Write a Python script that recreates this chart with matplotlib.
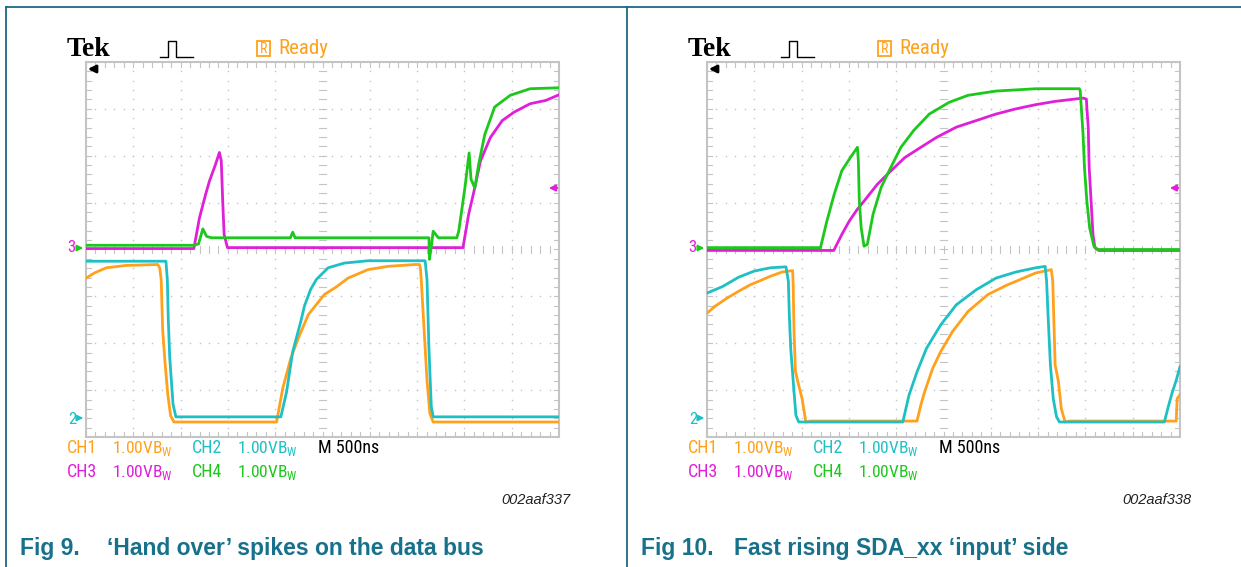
import matplotlib
matplotlib.use('Agg')
import matplotlib.pyplot as plt
import numpy as np
from matplotlib import font_manager
from matplotlib.patches import Rectangle

# ---- data: time in ns (500 ns/div), level in V (1 V/div) ----
# Fig 9
T9_CH1 = [0, 90, 215, 425, 760, 780, 795, 810, 835, 865, 895, 930, 2015, 2080, 2165, 2245, 2350, 2520,
          2645, 2770, 2980, 3190, 3480, 3525, 3535, 3545, 3565, 3585, 3605, 3635, 3670, 5000]
V9_CH1 = [3.01, 3.12, 3.23, 3.28, 3.30, 3.22, 2.97, 1.92, 1.22, 0.52, 0.07, -0.06, -0.06, 0.66, 1.30, 1.73,
          2.23, 2.66, 2.82, 3.01, 3.19, 3.26, 3.30, 3.30, 3.22, 2.94, 2.22, 1.52, 0.82, 0.12, -0.06, -0.06]
T9_CH2 = [0, 845, 860, 870, 885, 920, 950, 2060, 2120, 2185, 2270, 2310, 2375, 2435, 2560, 2730, 2980,
          3585, 3605, 3625, 3650, 3670, 5000]
V9_CH2 = [3.37, 3.37, 2.97, 2.12, 1.32, 0.32, 0.05, 0.05, 0.58, 1.44, 2.08, 2.42, 2.77, 2.98, 3.23, 3.33,
          3.38, 3.38, 2.97, 1.52, 0.27, 0.05, 0.05]
T9_CH3 = [0, 1140, 1200, 1265, 1305, 1370, 1410, 1430, 1445, 1460, 1495, 3985, 4045, 4110, 4170, 4275,
          4400, 4525, 4695, 4860, 5000]
V9_CH3 = [0.02, 0.02, 0.68, 1.18, 1.46, 1.82, 2.07, 1.89, 1.04, 0.32, 0.04, 0.04, 0.75, 1.32, 1.89, 2.39,
          2.75, 2.93, 3.11, 3.18, 3.30]
T9_CH4 = [0, 1140, 1190, 1235, 1275, 1325, 2160, 2185, 2210, 3625, 3630, 3650, 3670, 3725, 3920, 3940,
          4005, 4050, 4070, 4110, 4150, 4215, 4320, 4485, 4695, 5000]
V9_CH4 = [0.09, 0.09, 0.12, 0.44, 0.28, 0.25, 0.25, 0.37, 0.25, 0.25, -0.21, 0.05, 0.39, 0.25, 0.25, 0.39,
          1.31, 2.06, 1.50, 1.31, 1.81, 2.45, 3.04, 3.29, 3.43, 3.45]

# Fig 10
T10_CH1 = [0, 85, 210, 335, 460, 545, 670, 795, 905, 910, 920, 935, 960, 1005, 1045, 1090, 2220, 2260, 2300,
           2385, 2470, 2595, 2760, 2970, 3180, 3265, 3475, 3640, 3655, 3670, 3680, 3715, 3745, 3785, 3830,
           4960, 4970, 5000]
V10_CH1 = [2.26, 2.41, 2.58, 2.73, 2.87, 2.94, 3.05, 3.14, 3.17, 2.94, 1.87, 1.02, 0.80, 0.44, -0.06, -0.04,
           -0.04, 0.30, 0.58, 1.08, 1.44, 1.87, 2.30, 2.66, 2.87, 2.94, 3.12, 3.19, 2.94, 1.87, 1.16, 0.80,
           0.23, -0.06, -0.04, -0.04, 0.44, 0.52]
T10_CH2 = [0, 165, 335, 500, 670, 835, 860, 870, 885, 920, 940, 970, 2070, 2135, 2220, 2320, 2470, 2635,
           2845, 3055, 3265, 3475, 3575, 3590, 3605, 3630, 3660, 3695, 3725, 4835, 4875, 4915, 4960, 5000]
V10_CH2 = [2.69, 2.83, 3.03, 3.16, 3.23, 3.25, 2.94, 2.23, 1.51, 0.58, 0.08, -0.06, -0.06, 0.51, 1.01, 1.51,
           2.01, 2.44, 2.76, 3.01, 3.14, 3.23, 3.26, 2.94, 2.23, 1.16, 0.44, 0.05, -0.06, -0.06, 0.26, 0.55,
           0.83, 1.12]
T10_CH3 = [0, 1340, 1425, 1505, 1590, 1675, 1800, 1925, 2090, 2260, 2425, 2635, 2845, 3055, 3265, 3475,
           3680, 3975, 4010, 4015, 4030, 4040, 4060, 4080, 4100, 4140, 5000]
V10_CH3 = [-0.02, -0.02, 0.32, 0.61, 0.86, 1.07, 1.39, 1.64, 1.96, 2.18, 2.39, 2.61, 2.75, 2.89, 3.0, 3.09,
           3.16, 3.23, 3.21, 3.04, 2.61, 1.75, 1.04, 0.32, 0.04, -0.02, -0.02]
T10_CH4 = [0, 1200, 1265, 1345, 1425, 1515, 1590, 1600, 1610, 1630, 1660, 1695, 1755, 1840, 1925, 2050,
           2185, 2350, 2560, 2760, 3055, 3480, 3935, 3945, 3975, 3990, 4015, 4045, 4090, 4130, 5000]
V10_CH4 = [0.04, 0.04, 0.59, 1.18, 1.68, 1.96, 2.18, 1.89, 1.04, 0.46, 0.07, 0.11, 0.75, 1.32, 1.68, 2.18,
           2.54, 2.89, 3.14, 3.29, 3.38, 3.43, 3.43, 3.39, 2.46, 1.75, 1.04, 0.46, 0.07, 0.0, 0.0]

CAPTIONS = [('Fig 9.', '\u2018Hand over\u2019 spikes on the data bus', '002aaf337'),
            ('Fig 10.', 'Fast rising SDA_xx \u2018input\u2019 side', '002aaf338')]
VOLTS_DIV = '1.00V'
TIMEBASE = 'M 500ns'

colors = {'CH1': '#FFA11C', 'CH2': '#1EC0C4', 'CH3': '#E01FD8', 'CH4': '#1CC81C'}
ground = {'CH1': -3.62, 'CH2': -3.62, 'CH3': 0.0, 'CH4': 0.0}
grid_c = '#c4c4c4'
frame_c = '#1d6a80'
cap_c = '#17718b'


def pick_font(names, default):
    for n in names:
        try:
            font_manager.findfont(font_manager.FontProperties(family=n), fallback_to_default=False)
            return n
        except Exception:
            pass
    return default


NARROW = pick_font(['Liberation Sans Narrow', 'Roboto Condensed', 'DejaVu Sans Condensed'], 'DejaVu Sans')
SANS = pick_font(['Liberation Sans', 'Arial'], 'DejaVu Sans')
SERIF = pick_font(['Liberation Serif'], 'DejaVu Serif')

W, H = 1241, 567
fig = plt.figure(figsize=(W / 100, H / 100), dpi=100)


def draw_screen(ax, traces):
    ax.set_xlim(0, 5000)
    ax.set_ylim(-4, 4)
    ax.axis('off')
    xs = np.arange(0, 5001, 100)
    ys = np.arange(-4, 4.01, 0.2)
    # dotted graticule
    for gx in range(500, 5000, 500):
        if gx != 2500:
            ax.scatter(np.full(len(ys), gx), ys, s=1.3, color=grid_c, lw=0, zorder=1)
    for gy in range(-3, 4):
        if gy != 0:
            ax.scatter(xs, np.full(len(xs), gy), s=1.3, color=grid_c, lw=0, zorder=1)
    # centre lines and border ticks
    for x in xs:
        ax.plot([x, x], [-0.08, 0.08], color=grid_c, lw=0.8, zorder=1)
        ax.plot([x, x], [3.9, 4], color=grid_c, lw=0.8, zorder=1)
        ax.plot([x, x], [-4, -3.9], color=grid_c, lw=0.8, zorder=1)
    for y in ys:
        ax.plot([2460, 2540], [y, y], color=grid_c, lw=0.8, zorder=1)
        ax.plot([0, 50], [y, y], color=grid_c, lw=0.8, zorder=1)
        ax.plot([4950, 5000], [y, y], color=grid_c, lw=0.8, zorder=1)
    ax.add_patch(Rectangle((0, -4), 5000, 8, fill=False, edgecolor=grid_c, lw=1.5, clip_on=False, zorder=1))
    for ch, (t, v) in traces.items():
        ax.plot(t, np.array(v) + ground[ch], color=colors[ch], lw=2.0, zorder=3)


panels = [
    {'CH1': (T9_CH1, V9_CH1), 'CH2': (T9_CH2, V9_CH2), 'CH3': (T9_CH3, V9_CH3), 'CH4': (T9_CH4, V9_CH4)},
    {'CH1': (T10_CH1, V10_CH1), 'CH2': (T10_CH2, V10_CH2), 'CH3': (T10_CH3, V10_CH3), 'CH4': (T10_CH4, V10_CH4)},
]
screen_x = [86, 707]
for i, traces in enumerate(panels):
    ax = fig.add_axes([screen_x[i] / W, 1 - 437 / H, 473 / W, 375 / H])
    draw_screen(ax, traces)

# overlay in pixel coordinates
ov = fig.add_axes([0, 0, 1, 1])
ov.set_xlim(0, W)
ov.set_ylim(H, 0)
ov.axis('off')
ov.patch.set_visible(False)

# frame lines
ov.plot([6, W], [7, 7], color=frame_c, lw=1.3)
ov.plot([6, 6], [7, H], color=frame_c, lw=1.3)
ov.plot([627, 627], [7, H], color=frame_c, lw=1.3)

for i in range(2):
    dx = [0, 621][i]
    # header
    ov.text(67 + dx, 50, 'Tek', family=SERIF, fontweight='bold', fontsize=20, va='center', ha='left', color='black')
    ov.plot(np.array([160, 168, 168, 176, 176, 193]) + dx, [57, 57, 41, 41, 57, 57], color='black', lw=1.0)
    ov.add_patch(Rectangle((257 + dx, 41), 13, 15, fill=False, edgecolor=colors['CH1'], lw=1.3))
    ov.text(263.5 + dx, 49, 'R', family=NARROW, fontsize=10, color=colors['CH1'], ha='center', va='center')
    ov.text(278 + dx, 48, 'Ready', family=NARROW, fontsize=15, color=colors['CH1'], ha='left', va='center')
    # markers
    ov.annotate('', xy=(85 + dx, 69), xytext=(99 + dx, 69),
                arrowprops=dict(arrowstyle='-|>', color='black', lw=2.0, mutation_scale=11))
    ov.annotate('', xy=(546 + dx, 188), xytext=(560 + dx, 188),
                arrowprops=dict(arrowstyle='-|>', color=colors['CH3'], lw=1.5, mutation_scale=9))
    ov.text(71 + dx, 248, '3', family=NARROW, fontsize=12, color=colors['CH3'], ha='center', va='center')
    ov.annotate('', xy=(86 + dx, 248), xytext=(76 + dx, 248),
                arrowprops=dict(arrowstyle='-|>', color=colors['CH4'], lw=1.5, mutation_scale=8))
    ov.text(72 + dx, 419, '2', family=NARROW, fontsize=12, color=colors['CH2'], ha='center', va='center')
    ov.annotate('', xy=(86 + dx, 418), xytext=(77 + dx, 418),
                arrowprops=dict(arrowstyle='-|>', color=colors['CH2'], lw=1.5, mutation_scale=8))
    # channel readouts
    rows = [(448, 'CH1', 'CH2'), (472, 'CH3', 'CH4')]
    for y, a, b in rows:
        for ch, x in ((a, 67), (b, 192)):
            ov.text(x + dx, y, ch, family=NARROW, fontsize=13, color=colors[ch], ha='left', va='center')
            ov.text(x + 45 + dx, y, VOLTS_DIV + 'B$_\\mathregular{W}$', family=NARROW, fontsize=12.5,
                    color=colors[ch], ha='left', va='center')
    ov.text(318 + dx, 448, TIMEBASE, family=NARROW, fontsize=13, color='black', ha='left', va='center')
    # figure code and caption
    fig_no, title, code = CAPTIONS[i]
    ov.text(570 + dx, 500, code, family=SANS, style='italic', fontsize=10.5, color='#222222', ha='right', va='center')
    ov.text(20 + dx, 548, fig_no, family=SANS, fontweight='bold', fontsize=16.5, color=cap_c, ha='left', va='center')
    ov.text([107, 113][i] + dx, 548, title, family=SANS, fontweight='bold', fontsize=16.5, color=cap_c,
            ha='left', va='center')

fig.savefig('out.png', dpi=100, facecolor='white')
